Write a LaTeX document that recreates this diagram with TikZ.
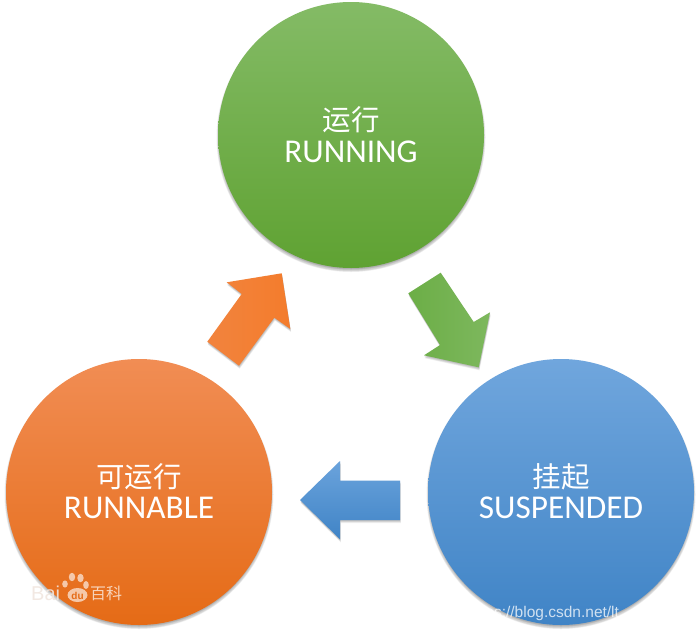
\documentclass[tikz,border=0pt]{standalone}
\usepackage{fontspec}
\setmainfont{Carlito}
\newfontfamily\cjk{Noto Sans CJK SC}
\newfontfamily\wmfont{Liberation Sans}
\definecolor{greenTop}{HTML}{84BB66}
\definecolor{greenMid}{HTML}{6EB04A}
\definecolor{greenBot}{HTML}{5FA232}
\definecolor{orangeTop}{HTML}{F18D54}
\definecolor{orangeMid}{HTML}{F37C2C}
\definecolor{orangeBot}{HTML}{E56B16}
\definecolor{blueTop}{HTML}{70A6DD}
\definecolor{blueMid}{HTML}{5597D8}
\definecolor{blueBot}{HTML}{4084C6}
\definecolor{markpale}{HTML}{F1E6DF}
\tikzset{
  x=1pt,y=-1pt,
  state/.style={circle,minimum size=266pt,inner sep=0pt,text=white},
  greenstate/.style={state,top color=greenTop,middle color=greenMid,bottom color=greenBot},
  orangestate/.style={state,top color=orangeTop,middle color=orangeMid,bottom color=orangeBot},
  bluestate/.style={state,top color=blueTop,middle color=blueMid,bottom color=blueBot},
  statehan/.style={inner sep=0pt,text=white,font=\cjk\fontsize{28.5}{30}\selectfont},
  statelatin/.style={inner sep=0pt,text=white,font=\fontsize{33.3}{36}\selectfont},
  softedge/.style={fill=black,opacity=0.06},
  blockgreen/.style={left color=greenMid!85!greenBot,middle color=greenMid,right color=greenTop!70!greenMid},
  blockorange/.style={left color=orangeTop!45!orangeMid,middle color=orangeMid,right color=orangeMid},
  blockblue/.style={top color=blueTop!80!blueMid,middle color=blueMid!85!blueBot,bottom color=blueBot},
  wm/.style={inner sep=0pt,text=white,text opacity=0.6},
}
% soft shadow under a disc, built from stacked translucent discs
\newcommand{\discshadow}[2]{%
  \foreach \grow/\drop in {1.5/2.5,1/2.5,0.5/2.5,0/2,-0.5/2,-1/2}{
    \fill[softedge] (#1,#2+\drop) circle[radius=133+\grow];
  }}
% soft shadow under a block arrow
\newcommand{\blockshadow}[1]{%
  \foreach \shift in {0.6,1.2,1.8,2.4,3}{
    \fill[softedge,xshift=\shift*0.25,yshift=-\shift] #1;
  }}
\begin{document}
\begin{tikzpicture}
\useasboundingbox (0,0) rectangle (700,632);
\fill[white] (0,0) rectangle (700,632);

\discshadow{351}{135}
\discshadow{139}{492}
\discshadow{561}{492}

\node[greenstate] (running) at (351,135) {};
\node[orangestate] (runnable) at (139,492) {};
\node[bluestate] (suspended) at (561,492) {};

% state captions: Han line above, Latin line below
\node[statehan] (runninghan) at (351,120) {运行};
\node[statelatin,anchor=base] (runninglatin) at (351,162) {RUNNING};
\node[statehan] (runnablehan) at (139,476.5) {可运行};
\node[statelatin,anchor=base] (runnablelatin) at (139,518) {RUNNABLE};
\node[statehan] (suspendedhan) at (561,476.5) {挂起};
\node[statelatin,anchor=base] (suspendedlatin) at (561,518) {SUSPENDED};

% block arrows between the three states
\def\arrowA{(207.3,341.7) -- (239,365.7) -- (274.3,317.7) -- (290.3,329) -- (281.7,273.3) -- (226.7,282.3) -- (241.7,294) -- cycle}
\def\arrowB{(408.3,293.3) -- (440.7,272.7) -- (473.7,322) -- (490,312.3) -- (478.7,367.3) -- (424,355.3) -- (440,345) -- cycle}
\def\arrowC{(400,480.7) -- (340,480.7) -- (340,461) -- (300,500) -- (340,539.3) -- (340,520) -- (400,520) -- cycle}
\blockshadow{\arrowA}
\blockshadow{\arrowB}
\blockshadow{\arrowC}
\shade[blockorange] \arrowA;
\shade[blockgreen] \arrowB;
\shade[blockblue] \arrowC;

% watermarks
\node[inner sep=0pt,text=markpale,text opacity=0.9,font=\wmfont\fontsize{20}{20}\selectfont,anchor=base west] (bai) at (31,600) {Bai};
\begin{scope}[white,opacity=0.62]
  \fill (77.5,595) ellipse[x radius=10,y radius=7];
  \fill (65,584) ellipse[x radius=2.8,y radius=3.6];
  \fill (72,577) ellipse[x radius=3.2,y radius=4.2];
  \fill (80.5,578) ellipse[x radius=3.2,y radius=4.2];
  \fill (86,585) ellipse[x radius=2.8,y radius=4];
\end{scope}
\node[inner sep=0pt,text=orangeBot,font=\wmfont\bfseries\fontsize{10}{10}\selectfont,anchor=base] (du) at (77.5,599) {du};
\node[wm,text opacity=0.7,font=\cjk\fontsize{16}{16}\selectfont,anchor=base west] (baike) at (90,599) {百科};
\node[wm,text opacity=0.75,font=\wmfont\fontsize{15.5}{16}\selectfont,anchor=base west] (url) at (468,617) {https://blog.csdn.net/lt};
\end{tikzpicture}
\end{document}
